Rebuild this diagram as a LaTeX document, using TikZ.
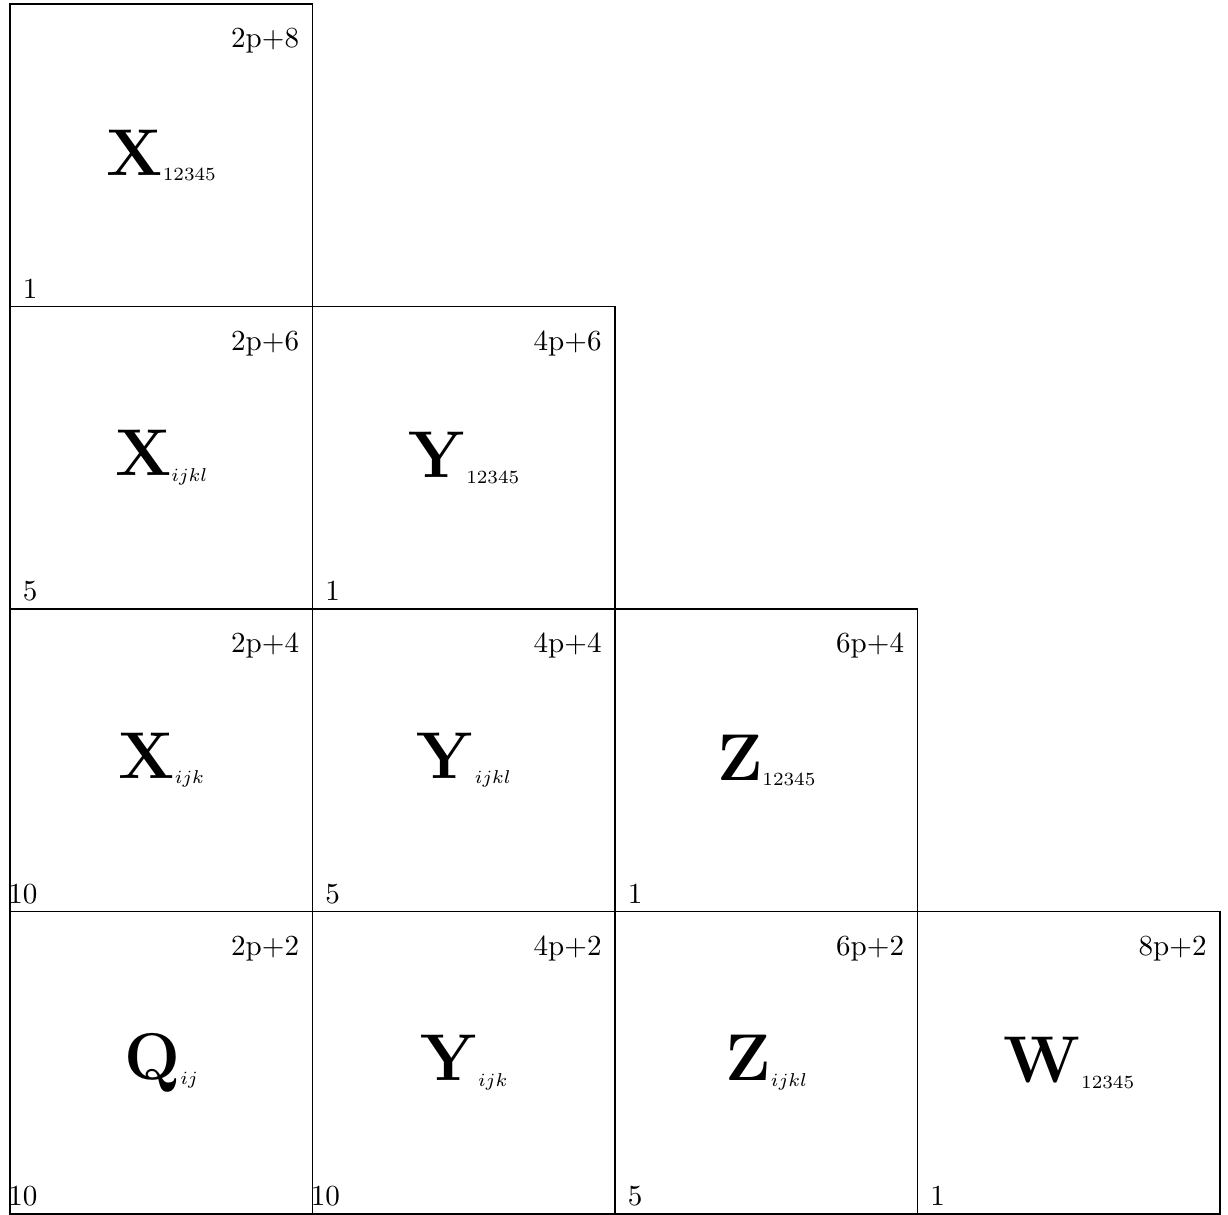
\documentclass[tikz,border=0pt]{standalone}
\usepackage{amsmath}
\usepackage{tikz}
\usetikzlibrary{positioning}

\newcommand{\blocksub}[1]{\raisebox{-2pt}{\scriptsize$#1$}}

\begin{document}
\begin{tikzpicture}[
        cell/.style={rectangle, draw, minimum width=4cm, minimum height=4cm, inner sep=0pt, outer sep=0pt, font=\Huge},
        hi/.style={anchor=base east, xshift=-0.17cm, yshift=-0.58cm, inner sep=0pt, font=\fontsize{10.95}{13.6}\selectfont},
        lo/.style={anchor=base east, xshift=0.37cm, yshift=0.11cm, inner sep=0pt, font=\fontsize{10.95}{13.6}\selectfont}
    ]
        % bottom row
        \node[cell] (qij) {$\mathbf{Q}$\blocksub{ij}};
        \node[cell, right=0cm of qij] (yijk) {$\mathbf{Y}$\blocksub{ijk}};
        \node[cell, right=0cm of yijk] (zijkl) {$\mathbf{Z}$\blocksub{ijkl}};
        \node[cell, right=0cm of zijkl] (w12345) {$\mathbf{W}$\blocksub{12345}};
        % upper rows
        \node[cell, above=0cm of qij] (xijk) {$\mathbf{X}$\blocksub{ijk}};
        \node[cell, above=0cm of yijk] (yijkl) {$\mathbf{Y}$\blocksub{ijkl}};
        \node[cell, above=0cm of zijkl] (z12345) {$\mathbf{Z}$\blocksub{12345}};
        \node[cell, above=0cm of xijk] (xijkl) {$\mathbf{X}$\blocksub{ijkl}};
        \node[cell, above=0cm of yijkl] (y12345) {$\mathbf{Y}$\blocksub{12345}};
        \node[cell, above=0cm of xijkl] (x12345) {$\mathbf{X}$\blocksub{12345}};

        \useasboundingbox ([shift={(-0.132,0.053)}]x12345.north west) rectangle ([shift={(0.106,0)}]w12345.south east);

        % corner numbers
        \node[hi] (x12345-hi) at (x12345.north east) {2p+8};
        \node[lo] (x12345-lo) at (x12345.south west) {1};
        \node[hi] (xijkl-hi) at (xijkl.north east) {2p+6};
        \node[lo] (xijkl-lo) at (xijkl.south west) {5};
        \node[hi] (xijk-hi) at (xijk.north east) {2p+4};
        \node[lo] (xijk-lo) at (xijk.south west) {10};
        \node[hi] (qij-hi) at (qij.north east) {2p+2};
        \node[lo] (qij-lo) at (qij.south west) {10};
        \node[hi] (y12345-hi) at (y12345.north east) {4p+6};
        \node[lo] (y12345-lo) at (y12345.south west) {1};
        \node[hi] (yijkl-hi) at (yijkl.north east) {4p+4};
        \node[lo] (yijkl-lo) at (yijkl.south west) {5};
        \node[hi] (yijk-hi) at (yijk.north east) {4p+2};
        \node[lo] (yijk-lo) at (yijk.south west) {10};
        \node[hi] (z12345-hi) at (z12345.north east) {6p+4};
        \node[lo] (z12345-lo) at (z12345.south west) {1};
        \node[hi] (zijkl-hi) at (zijkl.north east) {6p+2};
        \node[lo] (zijkl-lo) at (zijkl.south west) {5};
        \node[hi] (w12345-hi) at (w12345.north east) {8p+2};
        \node[lo] (w12345-lo) at (w12345.south west) {1};
    \end{tikzpicture}
\end{document}
